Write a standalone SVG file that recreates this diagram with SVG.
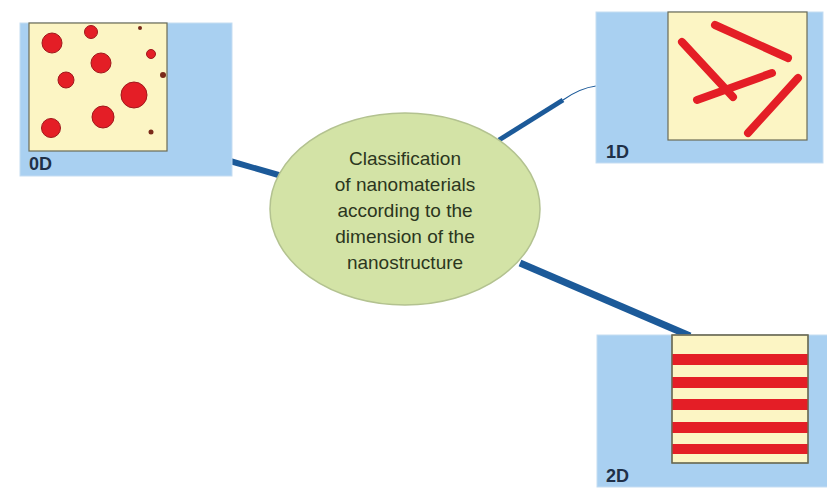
<svg xmlns="http://www.w3.org/2000/svg" width="827" height="490" viewBox="0 0 827 490">
<style>
.box{fill:#a9d0f1;stroke:#c5ddf2;stroke-width:1}
.pan{fill:#fcf5c4;stroke:#6b6b55;stroke-width:1.2}
.lbl{font-family:"Liberation Sans",Arial,sans-serif;font-weight:bold;font-size:18px;fill:#1f3048}
.dot{fill:#e41e26;stroke:#a0181c;stroke-width:1}
.sm{fill:#7a2a1a}
.rod{stroke:#e41e26;stroke-width:8;stroke-linecap:round}
.conn{stroke:#1c5a99;fill:none;stroke-linecap:butt}
.ct{font-family:"Liberation Sans",Arial,sans-serif;font-size:19px;fill:#2b3620;text-anchor:middle}
</style>
<rect width="827" height="490" fill="#ffffff"/>
<g id="connectors">
<line class="conn" x1="230" y1="161" x2="282" y2="176" stroke-width="6"/>
<line class="conn" x1="499" y1="140" x2="563" y2="100" stroke-width="5"/>
<path class="conn" d="M563 100 Q580 88 596 86" stroke-width="1.2" stroke="#3a5a80"/>
<line class="conn" x1="520" y1="263" x2="690" y2="336" stroke-width="7"/>
</g>
<g id="node-0D">
<rect class="box" x="20" y="23" width="212" height="153"/>
<rect class="pan" x="29" y="23" width="138" height="128"/>
<circle class="dot" cx="52" cy="43" r="10"/>
<circle class="dot" cx="91" cy="32" r="6.5"/>
<circle class="sm" cx="140" cy="28" r="2"/>
<circle class="dot" cx="151" cy="54" r="4.5"/>
<circle class="dot" cx="101" cy="63" r="10"/>
<circle class="dot" cx="66" cy="80" r="8"/>
<circle class="sm" cx="163" cy="75" r="3"/>
<circle class="dot" cx="134" cy="95" r="13"/>
<circle class="dot" cx="103" cy="117" r="11"/>
<circle class="dot" cx="51" cy="128" r="9.5"/>
<circle class="sm" cx="151" cy="132" r="2.5"/>
<text class="lbl" x="29" y="170">0D</text>
</g>
<g id="node-1D">
<rect class="box" x="596" y="12" width="227" height="151"/>
<rect class="pan" x="668" y="12" width="139" height="128"/>
<line class="rod" x1="715" y1="25" x2="788" y2="58"/>
<line class="rod" x1="682" y1="42" x2="733" y2="97"/>
<line class="rod" x1="697" y1="100" x2="772" y2="73"/>
<line class="rod" x1="798" y1="78" x2="748" y2="133"/>
<text class="lbl" x="606" y="158">1D</text>
</g>
<g id="node-2D">
<rect class="box" x="597" y="335" width="232" height="152"/>
<rect class="pan" x="672" y="335" width="136" height="128"/>
<g fill="#e41e26">
<rect x="672" y="354" width="136" height="11"/>
<rect x="672" y="377" width="136" height="11"/>
<rect x="672" y="399" width="136" height="11"/>
<rect x="672" y="422" width="136" height="11"/>
<rect x="672" y="444" width="136" height="10"/>
</g>
<rect x="672" y="335" width="136" height="128" fill="none" stroke="#6b6b55" stroke-width="1.2"/>
<text class="lbl" x="606" y="482">2D</text>
</g>
<g id="node-center">
<ellipse cx="405" cy="209" rx="135" ry="96" fill="#d3e3a6" stroke="#b3c290" stroke-width="1.5"/>
<text class="ct" x="405" y="165">Classification</text>
<text class="ct" x="405" y="191">of nanomaterials</text>
<text class="ct" x="405" y="217">according to the</text>
<text class="ct" x="405" y="243">dimension of the</text>
<text class="ct" x="405" y="269">nanostructure</text>
</g>
</svg>
